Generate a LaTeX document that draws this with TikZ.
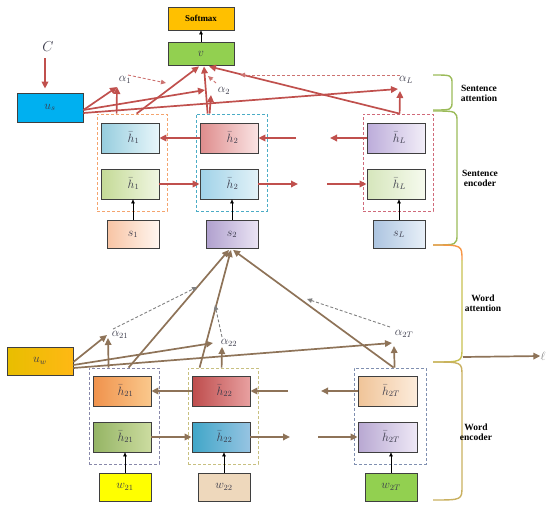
\documentclass[tikz,border=0pt]{standalone}
\usepackage{fontspec}
\setmainfont{Liberation Serif}
\usetikzlibrary{arrows.meta,calc}
\definecolor{sred}{HTML}{C0504D}
\definecolor{wbrown}{HTML}{8E7358}
\definecolor{boxline}{HTML}{3F3F3F}
\definecolor{txt}{HTML}{3A3A4A}
\definecolor{g1c}{HTML}{F4A46E}
\definecolor{g2c}{HTML}{4BACC6}
\definecolor{g3c}{HTML}{D06A7A}
\definecolor{g21c}{HTML}{8888AA}
\definecolor{g22c}{HTML}{C8C080}
\definecolor{g2Tc}{HTML}{7F8FB0}
\definecolor{bgreen}{HTML}{9BBB59}
\definecolor{borange}{HTML}{F79646}
\definecolor{bolive}{HTML}{C8C050}
\definecolor{bgold}{HTML}{C9B060}
\begin{document}
\begin{tikzpicture}[x=1pt,y=-1pt,
  box/.style={draw=boxline, line width=0.8pt, minimum width=58pt, minimum height=30pt, inner sep=0pt, text=txt, font=\large},
  hbox/.style={box, execute at begin node={\hspace*{7pt}}},
  inbox/.style={box, minimum width=52pt, minimum height=28pt},
  grp/.style={line width=0.8pt, dash pattern=on 3pt off 2pt, inner sep=0pt, minimum width=70pt, minimum height=97pt},
  sarr/.style={draw=sred, line width=1.7pt, -{Triangle[length=7pt,width=6.5pt]}},
  warr/.style={draw=wbrown, line width=1.7pt, -{Triangle[length=7pt,width=6.5pt]}},
  sdash/.style={draw=sred!80, line width=0.9pt, dash pattern=on 3pt off 2pt, -{Triangle[length=5pt,width=4.5pt]}},
  wdash/.style={draw=gray, line width=0.9pt, dash pattern=on 3pt off 2pt, -{Triangle[length=5pt,width=4.5pt]}},
  karr/.style={draw=black, line width=0.6pt, -{Triangle[length=4pt,width=3.5pt]}},
  lab/.style={font=\bfseries\fontsize{9.5}{11}\selectfont, align=center, text=black},
  alab/.style={text=txt, font=\large, inner sep=0pt}
]
\useasboundingbox (0,0) rectangle (550,509);

% ---------- top ----------
\node[box, fill={rgb,255:red,255;green,192;blue,0}, minimum width=66pt, minimum height=23pt, font=\bfseries\fontsize{9}{10}\selectfont, text=black] (sm) at (201,18.5) {Softmax};
\node[box, fill={rgb,255:red,146;green,208;blue,80}, minimum width=66pt, minimum height=23pt] (v) at (201,53.5) {$v$};
\draw[karr] (v.north) -- (sm.south);

\node[alab, font=\Large] (C) at (48,47) {$C$};
\node[box, fill={rgb,255:red,0;green,176;blue,240}, minimum width=66pt, minimum height=29pt] (us) at (50,107.5) {$u_s$};
\coordinate (cT) at (45,58);
\draw[sarr, shorten >=4pt] (cT) -- (cT |- us.north);

% ---------- sentence encoder ----------
\node[grp, draw=g1c] (g1) at (132,162.5) {};
\node[grp, draw=g2c, minimum width=71pt] (g2) at (231.5,162.5) {};
\node[grp, draw=g3c] (g3) at (398,162.5) {};

\node[hbox, left color={rgb,255:red,150;green,205;blue,222}, right color={rgb,255:red,232;green,246;blue,250}] (hb1) at (130,138) {$\bar{h}_1$};
\node[hbox, left color={rgb,255:red,196;green,218;blue,150}, right color={rgb,255:red,240;green,246;blue,226}] (hf1) at (130,184) {$\bar{h}_1$};
\node[inbox, left color={rgb,255:red,248;green,196;blue,164}, right color={rgb,255:red,255;green,246;blue,240}] (s1) at (133,234.5) {$s_1$};

\node[hbox, left color={rgb,255:red,222;green,140;blue,140}, right color={rgb,255:red,250;green,228;blue,228}] (hb2) at (229,138) {$\bar{h}_2$};
\node[hbox, left color={rgb,255:red,160;green,210;blue,232}, right color={rgb,255:red,226;green,242;blue,248}] (hf2) at (229,184) {$\bar{h}_2$};
\node[inbox, left color={rgb,255:red,176;green,160;blue,206}, right color={rgb,255:red,234;green,228;blue,244}] (s2) at (232,234.5) {$s_2$};

\node[hbox, left color={rgb,255:red,188;green,172;blue,218}, right color={rgb,255:red,242;green,238;blue,248}] (hbL) at (396,138) {$\bar{h}_L$};
\node[hbox, left color={rgb,255:red,214;green,230;blue,188}, right color={rgb,255:red,246;green,250;blue,238}] (hfL) at (396,184) {$\bar{h}_L$};
\node[inbox, left color={rgb,255:red,172;green,196;blue,224}, right color={rgb,255:red,232;green,240;blue,248}] (sL) at (399,234.5) {$s_L$};

\draw[karr] (s1.north) -- (s1.north |- hf1.south);
\draw[karr] (s2.north) -- (s2.north |- hf2.south);
\draw[karr] (sL.north) -- (sL.north |- hfL.south);

% recurrent arrows (sentence)
\draw[sarr] (hb2.west) -- (hb1.east);
\coordinate (sbR) at (296,138);
\coordinate (sbL) at (330,138);
\draw[sarr] (sbR) -- (hb2.east);
\draw[sarr] (hbL.west) -- (sbL);
\draw[sarr] (hf1.east) -- (hf2.west);
\coordinate (sfR) at (298,184);
\coordinate (sfL) at (327,184);
\draw[sarr] (hf2.east) -- (sfR);
\draw[sarr] (sfL) -- (hfL.west);

% ---------- sentence attention ----------
\node[alab] (a1) at (125,80) {$\alpha_1$};
\node[alab] (a2) at (224,91) {$\alpha_2$};
\node[alab] (aL) at (406,80) {$\alpha_L$};
\coordinate (a1t) at (117,87);
\coordinate (a2t) at (205,90);
\coordinate (a2v) at (211,95);
\coordinate (aLt) at (398,89);
\coordinate (aLv) at (400,91);
\coordinate (usA) at ($(us.east)+(0,2.5)$);
\coordinate (usB) at ($(us.east)+(0,5.5)$);
\coordinate (g1a) at ($(g1.north west)+(20,0)$);
\coordinate (g1b) at ($(g1.north west)+(40,0)$);
\coordinate (g2a) at ($(g2.north west)+(12,0)$);
\coordinate (g2b) at ($(g2.north west)+(14,0)$);
\coordinate (g3a) at ($(g3.north west)+(37,0)$);
\coordinate (vA) at ($(v.south)+(-2,1)$);
\coordinate (vB) at ($(v.south)+(3,1)$);
\coordinate (vC) at ($(v.south)+(8,1)$);

\draw[sarr] (usA) -- (a1t);
\draw[sarr] (usA) -- (a2t);
\draw[sarr] (usB) -- (aLt);
\draw[sarr] (g1a) -- (a1t);
\draw[sarr] (g2b) -- (a2v);
\draw[sarr] (g3a) -- (aLv);
\draw[sarr] (g1b) -- (vA);
\draw[sarr] (g2a) -- (vB);
\draw[sarr] (g3a) -- (vC);

\coordinate (d1s) at (128,75);
\coordinate (d1e) at (166,83);
\coordinate (d2s) at (216,83);
\coordinate (d2e) at (208,76);
\coordinate (dLs) at (400,75);
\coordinate (dLe) at (240,75);
\draw[sdash] (d1s) -- (d1e);
\draw[sdash] (d2s) -- (d2e);
\draw[sdash] (dLs) -- (dLe);

% ---------- word encoder ----------
\node[grp, draw=g21c, minimum height=96pt] (g21) at (124,416) {};
\node[grp, draw=g22c, minimum height=96pt] (g22) at (223,416) {};
\node[grp, draw=g2Tc, minimum height=96pt, minimum width=72pt] (g2T) at (390,416) {};

\node[hbox, left color={rgb,255:red,240;green,146;blue,76}, right color={rgb,255:red,250;green,200;blue,140}] (hb21) at (122,391) {$\bar{h}_{21}$};
\node[hbox, left color={rgb,255:red,148;green,180;blue,100}, right color={rgb,255:red,204;green,220;blue,160}] (hf21) at (122,437) {$\bar{h}_{21}$};
\node[inbox, fill={rgb,255:red,255;green,255;blue,0}] (w21) at (125,487) {$w_{21}$};

\node[hbox, left color={rgb,255:red,190;green,76;blue,76}, right color={rgb,255:red,232;green,160;blue,160}] (hb22) at (221,391) {$\bar{h}_{22}$};
\node[hbox, left color={rgb,255:red,64;green,166;blue,200}, right color={rgb,255:red,150;green,196;blue,226}] (hf22) at (221,437) {$\bar{h}_{22}$};
\node[inbox, fill={rgb,255:red,238;green,216;blue,188}] (w22) at (224,487) {$w_{22}$};

\node[hbox, minimum width=59pt, left color={rgb,255:red,240;green,196;blue,152}, right color={rgb,255:red,252;green,236;blue,220}] (hb2T) at (387.5,391) {$\bar{h}_{2T}$};
\node[hbox, minimum width=59pt, left color={rgb,255:red,184;green,168;blue,210}, right color={rgb,255:red,238;green,232;blue,246}] (hf2T) at (387.5,437) {$\bar{h}_{2T}$};
\node[inbox, fill={rgb,255:red,146;green,208;blue,80}] (w2T) at (391,487) {$w_{2T}$};

\draw[karr] (w21.north) -- (w21.north |- hf21.south);
\draw[karr] (w22.north) -- (w22.north |- hf22.south);
\draw[karr] (w2T.north) -- (w2T.north |- hf2T.south);

\draw[warr] (hb22.west) -- (hb21.east);
\coordinate (wbR) at (288,391);
\coordinate (wbL) at (321,391);
\draw[warr] (wbR) -- (hb22.east);
\draw[warr] (hb2T.west) -- (wbL);
\draw[warr] (hf21.east) -- (hf22.west);
\coordinate (wfR) at (290,437);
\coordinate (wfL) at (318,437);
\draw[warr] (hf22.east) -- (wfR);
\draw[warr] (wfL) -- (hf2T.west);

% ---------- word attention ----------
\node[box, left color={rgb,255:red,232;green,190;blue,0}, right color={rgb,255:red,255;green,184;blue,20}, minimum width=66pt, minimum height=28pt] (uw) at (40,361) {$u_w$};
\node[alab] (a21) at (120,335) {$\alpha_{21}$};
\node[alab] (a22) at (229,343) {$\alpha_{22}$};
\node[alab] (a2T) at (404,334) {$\alpha_{2T}$};
\coordinate (a21t) at (107,335);
\coordinate (a21v) at (108,338);
\coordinate (a22t) at (213,343);
\coordinate (a22v) at (222,347);
\coordinate (a2Tt) at (392,343);
\coordinate (a2Tv) at (394,346);
\coordinate (uwA) at ($(uw.east)+(0,1)$);
\coordinate (uwB) at ($(uw.east)+(0,4)$);
\coordinate (uwC) at ($(uw.east)+(0,7)$);
\coordinate (h21a) at ($(g21.north west)+(20,0)$);
\coordinate (h21b) at ($(g21.north west)+(40,0)$);
\coordinate (h22a) at ($(g22.north west)+(12,0)$);
\coordinate (h22b) at ($(g22.north west)+(34,0)$);
\coordinate (h2Ta) at ($(g2T.north west)+(40,0)$);
\coordinate (h2Tb) at ($(g2T.north west)+(41,0)$);
\coordinate (sA) at ($(s2.south)+(-3,1)$);
\coordinate (sB) at ($(s2.south)+(-1,1)$);
\coordinate (sC) at ($(s2.south)+(1,1)$);

\draw[warr] (uwA) -- (a21t);
\draw[warr] (uwB) -- (a22t);
\draw[warr] (uwC) -- (a2Tt);
\draw[warr] (h21a) -- (a21v);
\draw[warr] (h22b) -- (a22v);
\draw[warr] (h2Tb) -- (a2Tv);
\draw[warr] (h21b) -- (sA);
\draw[warr] (h22a) -- (sB);
\draw[warr] (h2Ta) -- (sC);

\coordinate (e1s) at (113,329);
\coordinate (e1e) at (197,287);
\coordinate (e2s) at (222,337);
\coordinate (e2e) at (215,305);
\coordinate (eTs) at (390,327);
\coordinate (eTe) at (307,299);
\draw[wdash] (e1s) -- (e1e);
\draw[wdash] (e2s) -- (e2e);
\draw[wdash] (eTs) -- (eTe);

% ---------- braces ----------
\draw[bgreen, line width=1.4pt] (433,75) .. controls (452,75) .. (452,84) -- (452,101) .. controls (452,110) .. (433,110);
\draw[bgreen, line width=1.4pt] (433,111) .. controls (457,111) .. (457,122) -- (457,234) .. controls (457,245) .. (433,245);
\draw[borange, line width=1.4pt] (433,245) .. controls (462,245) .. (462,260);
\draw[bolive, line width=1.4pt] (462,260) -- (462,348) .. controls (462,362) .. (433,362);
\draw[bgold, line width=1.4pt] (433,362) .. controls (462,362) .. (462,376) -- (462,486) .. controls (462,500) .. (433,500);

\node[lab] (tSA) at (479,93) {Sentence\\[-1pt]attention};
\node[lab] (tSE) at (480,178) {Sentence\\[-1pt]encoder};
\node[lab] (tWA) at (483,303) {Word\\[-1pt]attention};
\node[lab] (tWE) at (476,432) {Word\\[-1pt]encoder};

\coordinate (ellS) at (463,357);
\node[alab, text=gray] (ell) at (543,356) {$\ell$};
\draw[warr] (ellS) -- (ell.west);
\end{tikzpicture}
\end{document}
